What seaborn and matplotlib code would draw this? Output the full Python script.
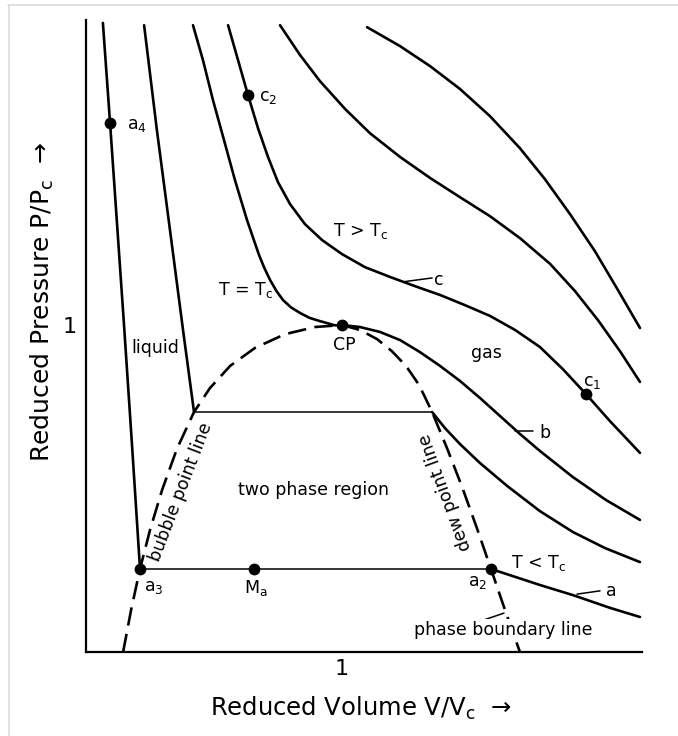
import matplotlib
matplotlib.use("Agg")
import matplotlib.pyplot as plt
import seaborn as sns
from matplotlib.lines import Line2D

sns.set_theme(style="white")
plt.rcParams["font.family"] = ["DejaVu Sans"]
plt.rcParams["mathtext.default"] = "regular"
for k in ["text.color", "axes.edgecolor", "axes.labelcolor", "xtick.color", "ytick.color"]:
    plt.rcParams[k] = "black"

# ---------------- data (reduced volume V/Vc, reduced pressure P/Pc) ----------------
# isotherm a (T < Tc)
a_liq_v = [0.066, 0.094, 0.121, 0.148, 0.180, 0.211]
a_liq_p = [1.924, 1.618, 1.312, 1.006, 0.630, 0.254]
a_tie_v = [0.211, 1.582]
a_tie_p = [0.254, 0.254]
a_gas_v = [1.582, 1.773, 1.902, 2.047, 2.164]
a_gas_p = [0.254, 0.205, 0.174, 0.135, 0.107]

# second sub-critical isotherm
s_liq_v = [0.227, 0.277, 0.328, 0.379, 0.422]
s_liq_p = [1.917, 1.596, 1.291, 0.985, 0.734]
s_tie_v = [0.422, 1.352]
s_tie_p = [0.734, 0.734]
s_gas_v = [1.352, 1.402, 1.461, 1.539, 1.645, 1.773, 1.902, 2.027, 2.164]
s_gas_p = [0.734, 0.685, 0.636, 0.578, 0.508, 0.431, 0.367, 0.318, 0.275]

# isotherm b (T = Tc, critical)
b_v = [0.418, 0.457, 0.496, 0.539, 0.582, 0.629, 0.676, 0.697, 0.719, 0.744,
       0.770, 0.801, 0.836, 0.873, 0.914, 0.973, 1.000, 1.070, 1.148, 1.227,
       1.305, 1.383, 1.461, 1.539, 1.617, 1.695, 1.773, 1.902, 2.031, 2.164]
b_p = [1.917, 1.810, 1.688, 1.566, 1.443, 1.321, 1.214, 1.174, 1.138, 1.104,
       1.076, 1.054, 1.037, 1.022, 1.012, 0.999, 1.000, 0.994, 0.979, 0.954,
       0.917, 0.875, 0.829, 0.777, 0.722, 0.667, 0.615, 0.535, 0.465, 0.404]

# isotherm c (T > Tc)
c_v = [0.555, 0.594, 0.633, 0.672, 0.711, 0.750, 0.797, 0.855, 0.922, 1.000,
       1.090, 1.188, 1.285, 1.383, 1.480, 1.578, 1.676, 1.773, 1.863, 1.953,
       2.047, 2.164]
c_p = [1.917, 1.810, 1.703, 1.602, 1.514, 1.437, 1.370, 1.309, 1.260, 1.217,
       1.177, 1.147, 1.119, 1.092, 1.061, 1.028, 0.985, 0.933, 0.865, 0.789,
       0.706, 0.609]

# higher isotherms
d_v = [0.758, 0.836, 0.914, 1.012, 1.109, 1.227, 1.344, 1.461, 1.578, 1.695,
       1.813, 1.910, 2.000, 2.086, 2.164]
d_p = [1.917, 1.826, 1.746, 1.661, 1.587, 1.514, 1.450, 1.391, 1.333, 1.266,
       1.187, 1.104, 1.015, 0.920, 0.826]
e_v = [1.098, 1.227, 1.344, 1.461, 1.578, 1.695, 1.793, 1.891, 1.988, 2.078, 2.164]
e_p = [1.911, 1.853, 1.792, 1.722, 1.639, 1.541, 1.446, 1.339, 1.226, 1.107, 0.991]

# phase boundary (bubble point line -> CP -> dew point line)
dome_v = [0.145, 0.176, 0.211, 0.250, 0.297, 0.355, 0.422, 0.484, 0.563, 0.660,
          0.777, 0.895, 1.000, 1.070, 1.137, 1.195, 1.250, 1.301, 1.352, 1.410,
          1.469, 1.527, 1.582, 1.637, 1.695]
dome_p = [0.000, 0.128, 0.254, 0.373, 0.495, 0.621, 0.734, 0.807, 0.875, 0.930,
          0.972, 0.994, 1.000, 0.985, 0.957, 0.920, 0.875, 0.817, 0.734, 0.624,
          0.505, 0.379, 0.254, 0.128, 0.000]

# marked states
pt_names = ["a4", "c2", "CP", "c1", "a3", "Ma", "a2"]
pt_v = [0.094, 0.633, 1.000, 1.953, 0.211, 0.656, 1.582]
pt_p = [1.618, 1.703, 1.000, 0.789, 0.254, 0.254, 0.254]

x_ticks = [1]
y_ticks = [1]
x_label = "Reduced Volume V/V$_c$  \u2192"
y_label = "Reduced Pressure P/P$_c$  \u2192"

# ---------------- figure ----------------
W, H = 678, 736
fig = plt.figure(figsize=(W / 100, H / 100), dpi=100)
fig.patch.set_facecolor("white")
ax = fig.add_axes([86 / W, 1 - 652 / H, 555.5 / W, 632 / H])
ax.set_xlim(0, 2.17)
ax.set_ylim(0, 1.933)

def curve(v, p, lw=1.9, **kw):
    sns.lineplot(x=v, y=p, sort=False, estimator=None, color="black",
                 lw=lw, ax=ax, **kw)
    ln = ax.lines[-1]
    ln.set_solid_joinstyle("round")
    return ln

for v, p in [(a_liq_v, a_liq_p), (a_gas_v, a_gas_p), (s_liq_v, s_liq_p),
             (s_gas_v, s_gas_p), (b_v, b_p), (c_v, c_p), (d_v, d_p), (e_v, e_p)]:
    curve(v, p)
for v, p in [(a_tie_v, a_tie_p), (s_tie_v, s_tie_p)]:
    curve(v, p, lw=1.1)

dome = curve(dome_v, dome_p, lw=1.9)
dome.set_linestyle((0, (7.0, 3.2)))
dome.set_dash_capstyle("butt")

sns.scatterplot(x=pt_v, y=pt_p, s=72, color="black", edgecolor="black",
                linewidth=0, zorder=6, ax=ax, legend=False)

# leader lines
for (x0, y0, x1, y1) in [(1.246, 1.133, 1.352, 1.144),
                         (1.676, 0.676, 1.746, 0.676),
                         (1.918, 0.177, 2.008, 0.187),
                         (1.543, 0.095, 1.633, 0.119)]:
    ax.plot([x0, x1], [y0, y1], color="black", lw=1.1)

fs = 12.5
def lab(x, y, s, **kw):
    kw.setdefault("ha", "center")
    kw.setdefault("va", "center")
    ax.text(x, y, s, fontsize=kw.pop("fontsize", fs), **kw)

lab(0.270, 0.930, "liquid")
lab(1.5625, 0.914, "gas")
lab(1.008, 0.938, "CP")
lab(0.621, 1.107, "T = T$_c$")
lab(1.074, 1.287, "T > T$_c$")
lab(1.766, 0.272, "T < T$_c$")
lab(0.887, 0.495, "two phase region")
lab(0.371, 0.489, "bubble point line", rotation=69, rotation_mode="anchor")
lab(1.406, 0.489, "dew point line", rotation=110, rotation_mode="anchor")
lab(1.629, 0.068, "phase boundary line", zorder=7,
    bbox=dict(facecolor="white", edgecolor="none", pad=1.0))
lab(0.664, 0.196, "M$_a$")
lab(1.531, 0.214, "a$_2$")
lab(0.266, 0.200, "a$_3$")
lab(0.161, 1.612, "a$_4$", ha="left")
lab(0.712, 1.698, "c$_2$")
lab(1.979, 0.827, "c$_1$")
lab(1.359, 1.137, "c", ha="left")
lab(1.773, 0.670, "b", ha="left")
lab(2.031, 0.187, "a", ha="left")

# axes styling
sns.despine(ax=ax, top=True, right=True)
ax.spines["left"].set_linewidth(1.6)
ax.spines["bottom"].set_linewidth(1.6)
ax.set_xticks(x_ticks)
ax.set_yticks(y_ticks)
ax.set_xticklabels([str(t) for t in x_ticks])
ax.set_yticklabels([str(t) for t in y_ticks])
ax.tick_params(axis="x", direction="in", length=8.5, width=1.4, labelsize=16, pad=5)
ax.tick_params(axis="y", direction="in", length=10, width=1.4, labelsize=16, pad=7)
ax.grid(False)

ax.set_xlabel(x_label, fontsize=17.5)
ax.set_ylabel(y_label, fontsize=18)
ax.xaxis.label.set_va("center")
ax.yaxis.label.set_va("center")
ax.xaxis.set_label_coords(0.495, -0.089)
ax.yaxis.set_label_coords(-0.079, 0.554)

# thin gray frame at top and left of the image
fig.add_artist(Line2D([8 / W, 1], [1 - 5 / H, 1 - 5 / H], transform=fig.transFigure,
                      color="#dcdcdc", lw=1.2))
fig.add_artist(Line2D([9 / W, 9 / W], [0, 1 - 5 / H], transform=fig.transFigure,
                      color="#dcdcdc", lw=1.2))

fig.savefig("out.png", dpi=100, facecolor="white")
